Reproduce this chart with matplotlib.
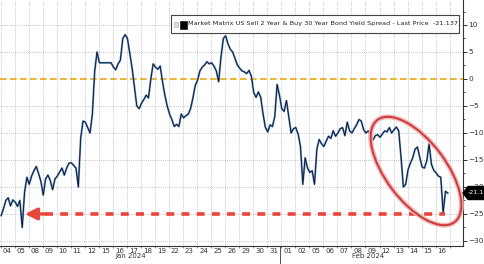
import matplotlib
matplotlib.use('Agg')
import matplotlib.pyplot as plt
import numpy as np
from matplotlib.patches import Ellipse, Rectangle, Polygon
from matplotlib.transforms import IdentityTransform, blended_transform_factory
from matplotlib.ticker import MultipleLocator, FixedLocator

plt.rcParams['font.family'] = ['DejaVu Sans']

# ---------------- data ----------------
day_labels = ['04', '05', '08', '09', '10', '11', '12', '15', '16', '17', '18', '19',
              '22', '23', '24', '25', '26', '29', '30', '31',
              '01', '02', '05', '06', '07', '08', '09', '12', '13', '14', '15', '16']
month_labels = ['Jan 2024', 'Feb 2024']
month_centers = [8.8, 25.7]
month_split = 19.5

# intraday spread values (bp), six readings per trading day
intraday = [
    [-25.3, -24.0, -22.5, -22.0, -23.5, -22.4],   # Jan 04
    [-22.8, -23.6, -22.5, -27.5, -21.0, -18.2],   # Jan 05
    [-19.5, -18.0, -17.0, -16.2, -17.5, -19.0],   # Jan 08
    [-21.5, -18.5, -17.8, -18.8, -20.5, -18.5],   # Jan 09
    [-18.0, -17.2, -16.5, -17.8, -16.5, -15.6],   # Jan 10
    [-15.5, -16.0, -16.5, -20.0, -11.0, -7.8],    # Jan 11
    [-8.0, -9.0, -10.0, -6.5, 1.5, 5.0],          # Jan 12
    [3.0, 3.0, 3.0, 3.0, 3.0, 3.0],               # Jan 15 (holiday)
    [2.2, 1.7, 2.8, 3.5, 7.5, 8.2],               # Jan 16
    [7.5, 4.8, 2.0, -1.5, -5.0, -5.5],            # Jan 17
    [-4.5, -3.8, -3.0, -3.5, 0.0, 2.8],           # Jan 18
    [2.2, 1.8, 2.4, -0.5, -3.0, -5.0],            # Jan 19
    [-6.5, -7.5, -8.8, -8.4, -8.8, -6.5],         # Jan 22
    [-7.2, -6.8, -6.5, -5.5, -3.5, -1.2],         # Jan 23
    [-0.2, 1.5, 2.2, 2.6, 3.2, 2.8],              # Jan 24
    [3.0, 2.4, 1.5, -0.5, 4.0, 7.5],              # Jan 25
    [8.0, 6.5, 5.5, 5.0, 3.8, 2.6],               # Jan 26
    [2.0, 1.5, 1.3, 1.0, 1.6, 0.5],               # Jan 29
    [-2.5, -3.4, -2.4, -3.4, -6.5, -9.0],         # Jan 30
    [-9.8, -8.5, -8.8, -7.0, -1.0, -3.0],         # Jan 31
    [-5.5, -6.0, -4.0, -7.0, -10.0, -9.2],        # Feb 01
    [-9.0, -10.2, -12.5, -19.5, -14.6, -16.5],    # Feb 02
    [-17.3, -17.0, -19.5, -13.0, -11.2, -12.0],   # Feb 05
    [-12.5, -11.5, -10.6, -11.0, -9.6, -10.6],    # Feb 06
    [-10.0, -9.2, -9.0, -10.5, -8.0, -9.6],       # Feb 07
    [-10.0, -9.2, -8.5, -7.5, -7.8, -9.4],        # Feb 08
    [-10.0, -9.6, -10.5, -11.3, -10.5, -10.3],    # Feb 09
    [-10.8, -10.2, -9.6, -9.8, -9.0, -10.0],      # Feb 12
    [-9.4, -8.9, -9.6, -14.5, -20.0, -19.5],      # Feb 13
    [-16.8, -15.6, -14.6, -13.0, -12.6, -14.5],   # Feb 14
    [-16.3, -16.5, -15.2, -12.0, -15.8, -16.9],   # Feb 15
    [-17.4, -18.0, -18.2, -24.8, -20.8, -21.137], # Feb 16
]
last_price = -21.137
target_level = -25
zero_level = 0
legend_text = 'Market Matrix US Sell 2 Year & Buy 30 Year Bond Yield Spread - Last Price  -21.137'

# ---------------- figure ----------------
W, H = 485, 264
fig = plt.figure(figsize=(W / 100, H / 100), dpi=100)
ax = fig.add_axes([0, 18 / H, 463 / W, 246 / H])
ax.set_xlim(-0.5, 32.5)
ax.set_ylim(-30.93, 14.63)

# series x positions
n_per = len(intraday[0])
xs, ys = [], []
for d, vals in enumerate(intraday):
    for i, v in enumerate(vals):
        xs.append(d - 0.5 + (i + 0.5) / n_per)
        ys.append(v)
xs = np.array(xs)
ys = np.array(ys)

# grid
grid_kw = dict(color='#a0a0a0', lw=0.55, ls=(0, (1, 1.8)), zorder=1)
for d in range(len(day_labels) + 1):
    ax.axvline(d - 0.45, **grid_kw)
for v in range(-30, 15, 5):
    if v != zero_level:
        ax.axhline(v, **grid_kw)
ax.axhline(zero_level, color='#e6a817', lw=1.2, ls=(0, (4, 2)), zorder=2)

# series
ax.plot(xs, ys, color='#5b88c4', lw=1.4, zorder=3)
ax.plot(xs, ys, color='#0b1220', lw=0.6, zorder=4)

# red dashed target arrow
x_tip = 1.28
x_start = 2.7
x_end = 31.2
ax.plot([x_start, x_end], [target_level, target_level], color='#e8453c', lw=2.6,
        ls=(0, (2.2, 2.0)), zorder=5, solid_capstyle='butt')
ax.annotate('', xy=(x_tip, target_level), xytext=(x_start + 0.1, target_level),
            arrowprops=dict(arrowstyle='-|>,head_length=0.7,head_width=0.35',
                            color='#e8453c', lw=2.4, shrinkA=0, shrinkB=0), zorder=5)

# axes styling
for s in ['left', 'top']:
    ax.spines[s].set_visible(False)
ax.spines['right'].set_color('#333333')
ax.spines['right'].set_linewidth(0.8)
ax.spines['bottom'].set_color('#333333')
ax.spines['bottom'].set_linewidth(0.8)

ax.yaxis.tick_right()
ax.yaxis.set_major_locator(MultipleLocator(5))
ax.yaxis.set_minor_locator(MultipleLocator(2.5))
ax.tick_params(axis='y', which='major', length=3, width=0.7, pad=1,
               labelsize=5.3, colors='#333333', direction='out')
ax.tick_params(axis='y', which='minor', length=1.5, width=0.6, colors='#333333')
ax.set_yticks([-30, -25, -20, -15, -10, -5, 0, 5, 10])

ax.set_xticks(range(len(day_labels)))
ax.set_xticklabels(day_labels)
ax.xaxis.set_minor_locator(FixedLocator([d - 0.45 for d in range(len(day_labels) + 1)]))
ax.tick_params(axis='x', which='major', length=0, pad=1.2, labelsize=5.0, colors='#333333')
ax.tick_params(axis='x', which='minor', length=1.5, width=0.5, colors='#555555')

trans = blended_transform_factory(ax.transData, ax.transAxes)
for lab, c in zip(month_labels, month_centers):
    ax.text(c, -10.0 / 246, lab, transform=trans, ha='center', va='center',
            fontsize=5.0, color='#333333')
ax.plot([month_split - 0.05, month_split - 0.05], [0, -18 / 246], transform=trans,
        color='#333333', lw=0.6, clip_on=False)

# red ellipse highlight (pixel coordinates)
idt = IdentityTransform()
ell_glow = Ellipse((416, H - 171), 128, 60, angle=-53, fill=False,
                   edgecolor='#f2b8b8', lw=3.5, transform=idt, zorder=6)
ell = Ellipse((416, H - 171), 128, 60, angle=-53, fill=False,
              edgecolor='#cc3b3b', lw=1.4, transform=idt, zorder=7)
fig.add_artist(ell_glow)
fig.add_artist(ell)

# legend box
leg_box = Rectangle((171, H - 33), 288, 18, transform=idt, facecolor='white',
                    edgecolor='#444444', lw=0.8, zorder=10)
fig.add_artist(leg_box)
fig.add_artist(Rectangle((174, H - 27), 3.5, 5, transform=idt, facecolor='#dddddd',
                         edgecolor='#aaaaaa', lw=0.4, zorder=11))
fig.add_artist(Rectangle((179.5, H - 28.5), 7, 8, transform=idt, facecolor='black',
                         edgecolor='black', lw=0.4, zorder=11))
leg_t = fig.text(188 / W, (H - 24) / H, legend_text, fontsize=5.0, color='#222222',
                 ha='left', va='center', zorder=12)
fig.canvas.draw()
bb = leg_t.get_window_extent()
leg_t.set_fontsize(5.0 * (457 - 188) / bb.width)

# last price tag
tag_y = H - 193
tag = Polygon([(463, tag_y), (468, tag_y + 6.5), (487, tag_y + 6.5),
               (487, tag_y - 6.5), (468, tag_y - 6.5)], closed=True,
              transform=idt, facecolor='black', edgecolor='black', zorder=12,
              clip_on=False)
fig.add_artist(tag)
fig.text(467.5 / W, tag_y / H, f'{last_price:.1f}', color='white', fontsize=4.6,
         ha='left', va='center', zorder=13)

fig.savefig('out.png', dpi=100)
